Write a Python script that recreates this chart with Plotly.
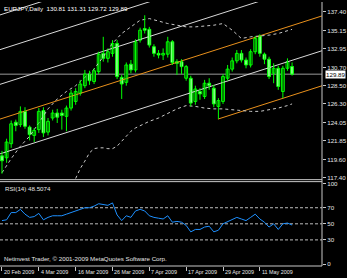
import plotly.graph_objects as go

# ---------------- data ----------------
bar_idx = list(range(64))
open_ = [120.03, 119.8, 121.5, 124.1, 123.8, 125.4, 123.5, 122.5, 123.2, 125.5,
         122.9, 124.6, 125.2, 125.2, 124.8, 125.8, 126.6, 127.6, 128.5, 129.9,
         129.0, 130.2, 132.4, 131.8, 132.4, 133.6, 129.5, 128.9, 131.1, 130.4,
         134.0, 135.4, 135.3, 133.2, 132.4, 132.2, 132.3, 133.8, 131.4, 131.4,
         129.4, 129.4, 126.6, 127.8, 127.2, 128.8, 128.2, 126.0, 126.6, 129.4,
         130.5, 131.5, 132.4, 131.6, 131.0, 132.6, 134.5, 132.3, 131.7, 130.0,
         130.6, 127.8, 130.6, 130.81]
high = [120.63, 122.1, 124.3, 124.4, 126.0, 125.9, 123.7, 123.4, 125.8, 125.9,
        124.6, 125.6, 125.7, 125.6, 126.1, 128.0, 128.2, 129.2, 130.4, 130.3,
        130.6, 132.6, 134.4, 133.0, 134.0, 134.0, 129.8, 131.3, 131.6, 134.1,
        135.5, 137.0, 135.6, 133.5, 132.8, 133.0, 134.4, 134.0, 131.7, 131.7,
        131.0, 129.7, 128.5, 128.2, 129.2, 129.4, 128.6, 127.0, 129.9, 131.0,
        131.9, 132.8, 132.8, 131.9, 132.9, 134.5, 134.7, 132.5, 132.0, 131.2,
        130.9, 130.9, 131.8, 131.31]
low = [117.88, 119.2, 121.0, 123.0, 123.5, 123.3, 121.9, 121.7, 122.8, 122.3,
       122.5, 124.3, 124.0, 123.2, 123.0, 125.5, 126.2, 127.3, 128.2, 128.6,
       128.7, 129.9, 131.4, 131.3, 132.0, 129.3, 126.9, 128.5, 130.0, 130.1,
       133.7, 134.8, 133.1, 132.0, 131.8, 131.6, 131.9, 131.0, 129.8, 129.9,
       129.1, 126.0, 126.2, 126.8, 126.9, 128.0, 125.9, 124.5, 126.3, 129.1,
       130.2, 131.2, 131.3, 130.6, 130.7, 132.3, 132.0, 131.1, 129.3, 128.8,
       128.0, 127.0, 130.3, 129.72]
close = [119.44, 121.7, 123.9, 123.7, 125.4, 123.6, 122.6, 123.1, 125.4, 122.8,
         124.2, 125.2, 124.7, 124.9, 125.8, 127.6, 127.8, 128.7, 129.9, 129.1,
         130.3, 132.3, 131.8, 132.6, 133.6, 129.6, 128.7, 131.0, 130.4, 133.8,
         135.2, 135.2, 133.4, 132.4, 132.2, 132.4, 133.8, 131.3, 131.2, 130.8,
         130.8, 126.4, 128.1, 127.5, 128.8, 128.5, 126.3, 126.7, 129.6, 130.5,
         131.5, 132.4, 131.6, 131.0, 132.6, 134.2, 132.4, 131.7, 129.6, 130.6,
         128.4, 130.6, 131.4, 129.89]

rsi = [54, 55, 64, 64, 68, 62, 58, 59, 63, 55,
       58, 60, 60, 60, 62, 64, 66, 68, 70, 70,
       72, 75, 74, 73, 76, 61, 54, 60, 58, 66,
       68, 66, 60, 58, 57, 56, 60, 52, 53, 52,
       48, 40, 43, 43, 46, 47, 40, 42, 50, 53,
       56, 58, 56, 54, 58, 62, 56, 52, 46, 50,
       43, 50, 51, 48.5]

# dotted envelope bands (bar index, price)
upper_idx = [0, 2, 4, 6, 8, 10, 12, 14, 16, 18, 20, 22, 24, 26, 28, 30, 32, 34,
             36, 38, 40, 42, 44, 46, 48, 50, 52, 54, 56, 58, 60, 62, 63]
upper_val = [118.0, 119.7, 121.2, 122.4, 124.0, 125.7, 126.9, 127.8, 128.5, 129.5,
             130.5, 132.0, 133.6, 134.8, 135.6, 136.4, 136.6, 136.3, 136.0, 135.8,
             135.6, 135.6, 135.7, 135.8, 136.0, 135.2, 134.2, 134.4, 134.5, 134.6,
             134.8, 135.1, 135.3]
lower_idx = [16, 17, 18, 19, 20, 21, 22, 23, 24, 25, 26, 27, 28, 29, 30, 32, 34,
             36, 38, 40, 42, 44, 46, 48, 50, 52, 54, 56, 58, 60, 62, 63]
lower_val = [117.3, 118.5, 119.4, 120.4, 120.9, 121.0, 121.0, 120.9, 120.9, 121.2,
             121.8, 122.4, 123.0, 123.4, 123.7, 124.2, 124.6, 125.2, 125.7, 126.1,
             126.0, 125.8, 125.7, 125.7, 125.6, 125.5, 125.4, 125.4, 125.6, 125.8,
             126.1, 126.3]

# trend channel lines: (start bar, start price, end bar, end price)
white_lines = [(-0.43, 137.04, 69.5, 149.49),
               (-0.43, 132.85, 69.5, 145.30),
               (-0.43, 128.66, 69.5, 141.11),
               (-0.43, 120.27, 69.5, 132.72)]
orange_lines = [(-0.43, 124.47, 69.5, 136.92),
                (46.9, 124.47, 69.5, 128.49)]

price_ticks = [137.40, 135.15, 132.95, 130.70, 128.50, 126.30, 124.05, 121.85, 119.60, 117.40]
rsi_ticks = [0, 30, 50, 70, 100]
rsi_levels = [30, 50, 70]
date_tick_idx = [0, 8, 16, 24, 32, 40, 48, 56]
date_labels = ["20 Feb 2009", "4 Mar 2009", "16 Mar 2009", "26 Mar 2009",
               "7 Apr 2009", "17 Apr 2009", "29 Apr 2009", "11 May 2009"]
title_text = "EURJPY,Daily  130.81 131.31 129.72 129.89"
rsi_label = "RSI(14) 48.5074"
copyright_text = "Netinvest Trader, \u00a9 2001-2009 MetaQuotes Software Corp."
last_price = 129.89

# ---------------- figure ----------------
GREEN = "#00FF00"
FG = "#E6E6E6"
FONT = "Liberation Sans"
fig = go.Figure()

for (x0, y0, x1, y1) in white_lines:
    fig.add_trace(go.Scatter(x=[x0, x1], y=[y0, y1], mode="lines",
                             line=dict(color="#D8D8D8", width=1), hoverinfo="skip",
                             xaxis="x", yaxis="y"))
for (x0, y0, x1, y1) in orange_lines:
    fig.add_trace(go.Scatter(x=[x0, x1], y=[y0, y1], mode="lines",
                             line=dict(color="#E8901C", width=1), hoverinfo="skip",
                             xaxis="x", yaxis="y"))
fig.add_trace(go.Scatter(x=upper_idx, y=upper_val, mode="lines",
                         line=dict(color="#C8C8C8", width=1, dash="dot"), hoverinfo="skip"))
fig.add_trace(go.Scatter(x=lower_idx, y=lower_val, mode="lines",
                         line=dict(color="#C8C8C8", width=1, dash="dot"), hoverinfo="skip"))

wx, wy = [], []
for i, h, l in zip(bar_idx, high, low):
    wx += [i, i, None]
    wy += [l, h, None]
fig.add_trace(go.Scatter(x=wx, y=wy, mode="lines", line=dict(color=GREEN, width=1),
                         hoverinfo="skip"))

bx_up, bb_up, bh_up, bx_dn, bb_dn, bh_dn = [], [], [], [], [], []
for i, o, c in zip(bar_idx, open_, close):
    base = min(o, c)
    hgt = max(abs(c - o), 0.07)
    if c >= o:
        bx_up.append(i); bb_up.append(base); bh_up.append(hgt)
    else:
        bx_dn.append(i); bb_dn.append(base); bh_dn.append(hgt)
fig.add_trace(go.Bar(x=bx_up, y=bh_up, base=bb_up, width=0.62,
                     marker=dict(color="black", line=dict(color=GREEN, width=1))))
fig.add_trace(go.Bar(x=bx_dn, y=bh_dn, base=bb_dn, width=0.62,
                     marker=dict(color="white", line=dict(color=GREEN, width=1))))

for lv in rsi_levels:
    fig.add_trace(go.Scatter(x=[-0.43, 69.5], y=[lv, lv], mode="lines",
                             line=dict(color="#BDBDBD", width=1, dash="3px,2px"),
                             xaxis="x2", yaxis="y2", hoverinfo="skip"))
fig.add_trace(go.Scatter(x=bar_idx, y=rsi, mode="lines",
                         line=dict(color="#1E90FF", width=1), xaxis="x2", yaxis="y2"))

XR = [-0.43, 69.5]
MAIN_BOT = (266 - 179) / 266
RSI_TOP = (266 - 181) / 266
tickfont = dict(family=FONT, size=6.2, color=FG)

fig.update_layout(
    width=347, height=278, margin=dict(l=0, r=23, t=0, b=12),
    paper_bgcolor="black", plot_bgcolor="black", showlegend=False,
    barmode="overlay",
    xaxis=dict(domain=[0, 1], range=XR, showgrid=False, zeroline=False,
               showticklabels=False, ticks="", anchor="y"),
    yaxis=dict(domain=[MAIN_BOT, 1], range=[117.16, 138.60], side="right",
               showgrid=False, zeroline=False, tickvals=price_ticks,
               ticktext=["%.2f" % v for v in price_ticks], ticks="outside",
               ticklen=3, tickcolor="#C8C8C8", tickfont=tickfont, anchor="x"),
    xaxis2=dict(domain=[0, 1], range=XR, showgrid=False, zeroline=False,
                showticklabels=False, ticks="outside", ticklen=4, tickcolor="#C8C8C8",
                tickvals=date_tick_idx, anchor="y2"),
    yaxis2=dict(domain=[0, RSI_TOP], range=[-2.47, 102.47], side="right",
                showgrid=False, zeroline=False, tickvals=rsi_ticks,
                ticks="outside", ticklen=3, tickcolor="#C8C8C8", tickfont=tickfont,
                anchor="x2"),
)

shapes = [
    dict(type="line", xref="paper", yref="y", x0=0, x1=1, y0=last_price, y1=last_price,
         line=dict(color="#9A9A9A", width=1), layer="below"),
    dict(type="line", xref="paper", yref="paper", x0=1, x1=1, y0=0, y1=1,
         line=dict(color="#C8C8C8", width=1)),
    dict(type="line", xref="paper", yref="paper", x0=0, x1=1, y0=MAIN_BOT, y1=MAIN_BOT,
         line=dict(color="#C8C8C8", width=1)),
    dict(type="line", xref="paper", yref="paper", x0=0, x1=1, y0=RSI_TOP, y1=RSI_TOP,
         line=dict(color="#C8C8C8", width=1)),
    dict(type="line", xref="paper", yref="paper", x0=0, x1=1, y0=0, y1=0,
         line=dict(color="#C8C8C8", width=1)),
]
fig.update_layout(shapes=shapes)

ann = [
    dict(text=title_text, xref="paper", yref="paper", x=0, y=1, xanchor="left",
         yanchor="top", xshift=2, yshift=-1, showarrow=False,
         font=dict(family=FONT, size=6.2, color="white")),
    dict(text=rsi_label, xref="paper", yref="paper", x=0, y=RSI_TOP, xanchor="left",
         yanchor="top", xshift=3, yshift=-1, showarrow=False,
         font=dict(family=FONT, size=6.2, color=FG)),
    dict(text=copyright_text, xref="paper", yref="paper", x=0, y=0, xanchor="left",
         yanchor="bottom", xshift=2, yshift=2, showarrow=False,
         font=dict(family=FONT, size=6.2, color=FG)),
    dict(text="%.2f" % last_price, xref="paper", yref="y", x=1, y=last_price,
         xanchor="left", yanchor="middle", xshift=3, showarrow=False,
         bgcolor="white", borderpad=0, font=dict(family=FONT, size=6.2, color="black")),
]
for idx, lab in zip(date_tick_idx, date_labels):
    ann.append(dict(text=lab, xref="x2", yref="paper", x=idx, y=0, xanchor="left",
                    yanchor="top", xshift=0, yshift=-1, showarrow=False,
                    font=dict(family=FONT, size=5.4, color=FG)))
fig.update_layout(annotations=ann)

fig.write_html("out.html")
